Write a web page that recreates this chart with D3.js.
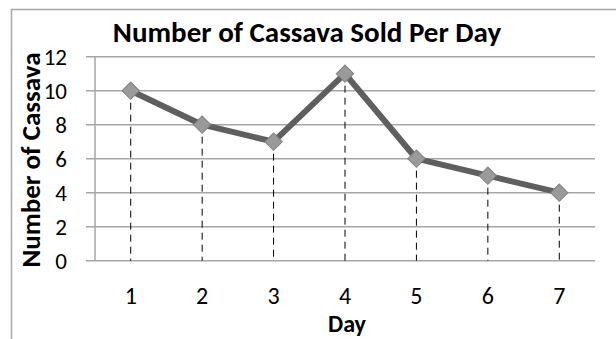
<!DOCTYPE html>
<html><head><meta charset="utf-8">
<script src="https://cdn.jsdelivr.net/npm/d3@7"></script>
<style>body{margin:0;background:#fff}svg{display:block}</style>
</head><body>
<script>
const days = [1, 2, 3, 4, 5, 6, 7];
const sold = [10, 8, 7, 11, 6, 5, 4];
const yTicks = [0, 2, 4, 6, 8, 10, 12];
const title = "Number of Cassava Sold Per Day";
const xTitle = "Day";
const yTitle = "Number of Cassava";

const W = 616, H = 339;
const svg = d3.select("body").append("svg").attr("width", W).attr("height", H);
const font = "Carlito, Calibri, 'Open Sans', sans-serif";

// outer chart border
svg.append("rect").attr("x", 11.5).attr("y", 9.5).attr("width", 640).attr("height", 400)
  .attr("fill", "#fff").attr("stroke", "#a6a6a6").attr("stroke-width", 1.5);

const x = d3.scaleBand().domain(days).range([95, 595]);
const y = d3.scaleLinear().domain([0, 12]).range([260.7, 56.7]);
const cx = d => x(d) + x.bandwidth() / 2;

// gridlines
svg.append("g").selectAll("line").data(yTicks).join("line")
  .attr("x1", 86).attr("x2", 595)
  .attr("y1", d => y(d)).attr("y2", d => y(d))
  .attr("stroke", "#a6a6a6").attr("stroke-width", 1.5);
// y axis line
svg.append("line").attr("x1", 95).attr("x2", 95).attr("y1", y(12)).attr("y2", y(0))
  .attr("stroke", "#a6a6a6").attr("stroke-width", 1.5);

// y tick labels
svg.append("g").selectAll("text").data(yTicks).join("text")
  .attr("x", 67).attr("y", d => y(d)).attr("dy", "0.35em")
  .attr("text-anchor", "end").attr("font-family", font).attr("font-size", 23)
  .attr("fill", "#000").text(d => d);

// x tick labels
svg.append("g").selectAll("text").data(days).join("text")
  .attr("x", cx).attr("y", 304)
  .attr("text-anchor", "middle").attr("font-family", font).attr("font-size", 24)
  .attr("fill", "#000").text(d => d);

// drop lines
svg.append("g").selectAll("line").data(days).join("line")
  .attr("x1", cx).attr("x2", cx)
  .attr("y1", (d, i) => y(sold[i])).attr("y2", y(0))
  .attr("stroke", "#000").attr("stroke-width", 1).attr("stroke-dasharray", "7,5");

// line
const line = d3.line().x((d, i) => cx(days[i])).y(d => y(d));
svg.append("path").datum(sold).attr("d", line)
  .attr("fill", "none").attr("stroke", "#5f5f5f").attr("stroke-width", 6)
  .attr("stroke-linejoin", "round");

// markers
svg.append("g").selectAll("path").data(sold).join("path")
  .attr("transform", (d, i) => `translate(${cx(days[i])},${y(d)}) rotate(45)`)
  .attr("d", d3.symbol().type(d3.symbolSquare).size(150))
  .attr("fill", "#9a9a9a").attr("stroke", "#808080").attr("stroke-width", 1);

// title
svg.append("text").attr("x", 307).attr("y", 41.7)
  .attr("text-anchor", "middle").attr("font-family", font).attr("font-weight", "bold")
  .attr("font-size", 29).attr("fill", "#000").text(title);

// x title
svg.append("text").attr("x", 347).attr("y", 332)
  .attr("text-anchor", "middle").attr("font-family", font).attr("font-weight", "bold")
  .attr("font-size", 24).attr("fill", "#000").text(xTitle);

// y title
svg.append("text").attr("transform", "translate(31,160) rotate(-90)").attr("dy", "0.35em")
  .attr("text-anchor", "middle").attr("font-family", font).attr("font-weight", "bold")
  .attr("font-size", 27).attr("fill", "#000").text(yTitle);
</script>
</body></html>
